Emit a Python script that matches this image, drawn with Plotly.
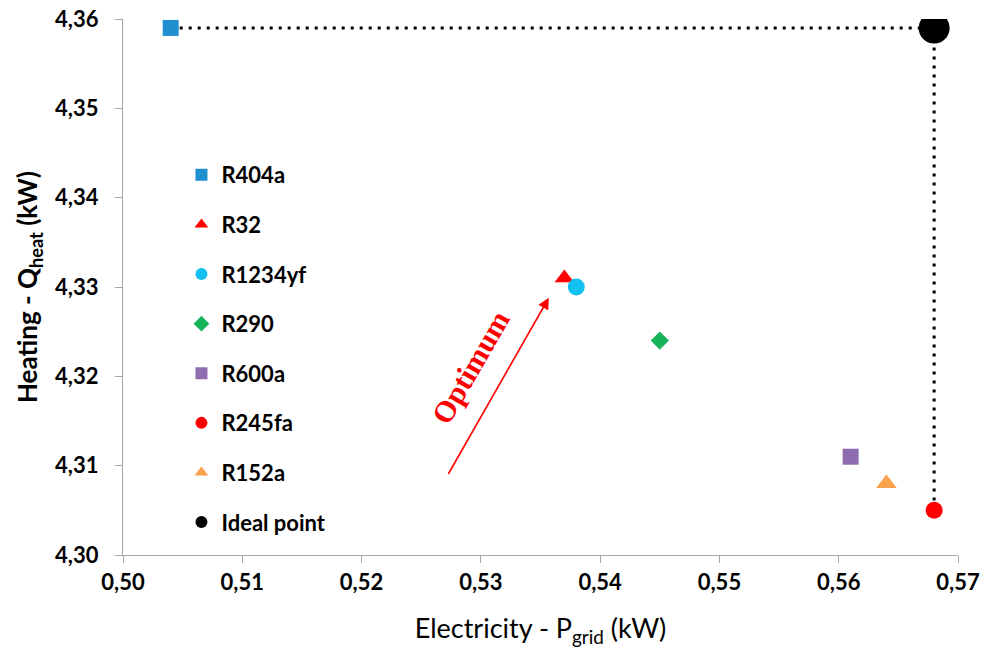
import plotly.graph_objects as go

# Refrigerant results: electricity use vs. heating output
refrigerants = ["R404a", "R32", "R1234yf", "R290", "R600a", "R245fa", "R152a"]
p_grid = [0.504, 0.537, 0.538, 0.545, 0.561, 0.568, 0.564]
q_heat = [4.359, 4.331, 4.330, 4.324, 4.311, 4.305, 4.308]
symbols = ["square", "triangle-up", "circle", "diamond", "square", "circle", "triangle-up"]
colors = ["#1f8fcf", "#ff0000", "#13c0f2", "#17b25a", "#8e6cb0", "#ff0000", "#f9a24b"]
sizes = [16, 17, 17, 14, 16, 17, 18]

ideal_name = "Ideal point"
ideal_x = [0.568]
ideal_y = [4.359]

# Dotted guide: best-heating point -> ideal point -> lowest-electricity point
guide_x = [0.504, 0.568, 0.568]
guide_y = [4.359, 4.359, 4.305]

# Optimum arrow (tail -> head), in data units
arrow_tail = (0.5272, 4.3089)
arrow_head = (0.5357, 4.3288)

xticks = [0.50, 0.51, 0.52, 0.53, 0.54, 0.55, 0.56, 0.57]
yticks = [4.30, 4.31, 4.32, 4.33, 4.34, 4.35, 4.36]

FONT = "Lato"

fig = go.Figure()

fig.add_trace(go.Scatter(
    x=guide_x, y=guide_y, mode="lines", showlegend=False, hoverinfo="skip",
    line=dict(color="black", width=3, dash="3px,6px"),
))

for i, name in enumerate(refrigerants):
    fig.add_trace(go.Scatter(
        x=[p_grid[i]], y=[q_heat[i]], mode="markers", name=name,
        legendgroup=name,
        marker=dict(symbol=symbols[i], color=colors[i], size=sizes[i]),
    ))

fig.add_trace(go.Scatter(
    x=ideal_x, y=ideal_y, mode="markers", name=ideal_name,
    legendgroup=ideal_name,
    marker=dict(symbol="circle", color="black", size=31),
))

fig.add_annotation(
    x=arrow_head[0], y=arrow_head[1], ax=arrow_tail[0], ay=arrow_tail[1],
    xref="x", yref="y", axref="x", ayref="y",
    showarrow=True, arrowhead=2, arrowsize=1.4, arrowwidth=1.6,
    arrowcolor="#ff0000", text="",
)
fig.add_annotation(
    x=0.5291, y=4.3210, xref="x", yref="y", showarrow=False,
    text="<b>Optimum</b>", textangle=-60,
    font=dict(family="Liberation Serif", size=30, color="#ff0000"),
)

axis_common = dict(
    showgrid=False, zeroline=False, showline=True, linecolor="#a6a6a6",
    linewidth=1.3, ticks="outside", tickcolor="#a6a6a6", ticklen=7,
    tickwidth=1.3, tickformat=".2f", automargin=False,
    tickfont=dict(family=FONT, size=22, color="black", weight="bold"),
)

fig.update_xaxes(
    range=[0.50, 0.57], tickvals=xticks,
    title=dict(text="Electricity - P<sub>grid</sub> (kW)",
               font=dict(family=FONT, size=27, color="black"), standoff=25),
    **axis_common,
)
fig.update_yaxes(
    range=[4.30, 4.36], tickvals=yticks, ticklabelstandoff=12,
    title=dict(text="<b>Heating - Q<sub>heat</sub> (kW)</b>",
               font=dict(family=FONT, size=26, color="black"), standoff=9),
    **axis_common,
)

fig.update_layout(
    width=987, height=650,
    margin=dict(l=123, r=29, t=19, b=95),
    paper_bgcolor="white", plot_bgcolor="white",
    separators=",.",
    legend=dict(
        x=0.070, y=0.748, xanchor="left", yanchor="top",
        bgcolor="rgba(0,0,0,0)", itemsizing="constant", tracegroupgap=18,
        font=dict(family=FONT, size=22, color="black", weight="bold"),
        itemwidth=30,
    ),
)

fig.write_html("out.html")
